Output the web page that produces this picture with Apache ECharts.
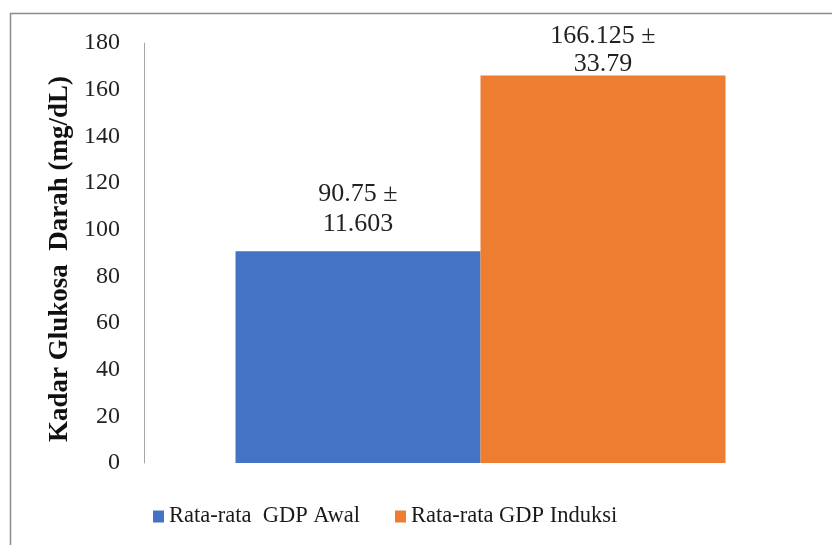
<!DOCTYPE html>
<html><head><meta charset="utf-8">
<script src="https://cdn.jsdelivr.net/npm/echarts@6/dist/echarts.min.js"></script>
<style>html,body{margin:0;padding:0;background:#fff}#c{width:832px;height:545px}</style>
</head><body><div id="c"></div>
<script>
const categories = ['GDP'];
const seriesNames = ['Rata-rata  GDP Awal', 'Rata-rata GDP Induksi'];
const awalValues = [90.75];
const induksiValues = [166.125];
const awalSD = ['11.603'];
const induksiSD = ['33.79'];
const yTicks = [0, 20, 40, 60, 80, 100, 120, 140, 160, 180];
const yTitle = 'Kadar Glukosa  Darah (mg/dL)';

const FONT = "'Liberation Serif', 'Times New Roman', serif";
const chart = echarts.init(document.getElementById('c'));
chart.setOption({
  backgroundColor: '#fff',
  animation: false,
  graphic: [{
    type: 'rect', shape: { x: 10.5, y: 13.5, width: 900, height: 600 },
    style: { fill: 'none', stroke: '#8c8c8c', lineWidth: 1.5 }, silent: true
  }],
  grid: { left: 144, right: 15, top: 43, bottom: 82 },
  legend: {
    bottom: 12, left: 148, itemWidth: 11, itemHeight: 12, itemGap: 35, icon: 'rect',
    textStyle: { fontFamily: FONT, fontSize: 22.5, color: '#1a1a1a' },
    data: seriesNames
  },
  xAxis: {
    type: 'category', data: categories,
    axisLine: { show: false }, axisTick: { show: false }, axisLabel: { show: false }
  },
  yAxis: {
    type: 'value', min: yTicks[0], max: yTicks[yTicks.length - 1], interval: 20,
    name: yTitle, nameLocation: 'middle', nameGap: 66,
    nameTextStyle: { fontFamily: FONT, fontSize: 27, fontWeight: 'bold', color: '#111', padding: [0, 12, 0, 0] },
    axisLine: { show: true, lineStyle: { color: '#a6a6a6', width: 1 } },
    axisTick: { show: false }, splitLine: { show: false },
    axisLabel: { fontFamily: FONT, fontSize: 24, color: '#222', margin: 24 }
  },
  series: [
    {
      name: seriesNames[0], type: 'bar', data: awalValues, barWidth: 245, barGap: '0%',
      itemStyle: { color: '#4472C4' },
      label: {
        show: true, position: 'top', distance: 12,
        fontFamily: FONT, fontSize: 26, lineHeight: 30, color: '#222', align: 'center',
        formatter: p => p.value + ' \u00B1\n' + awalSD[p.dataIndex]
      }
    },
    {
      name: seriesNames[1], type: 'bar', data: induksiValues, barWidth: 245,
      itemStyle: { color: '#ED7D31' },
      label: {
        show: true, position: 'top', distance: -3,
        fontFamily: FONT, fontSize: 26, lineHeight: 28, color: '#222', align: 'center',
        formatter: p => p.value + ' \u00B1\n' + induksiSD[p.dataIndex]
      }
    }
  ]
});
</script></body></html>
